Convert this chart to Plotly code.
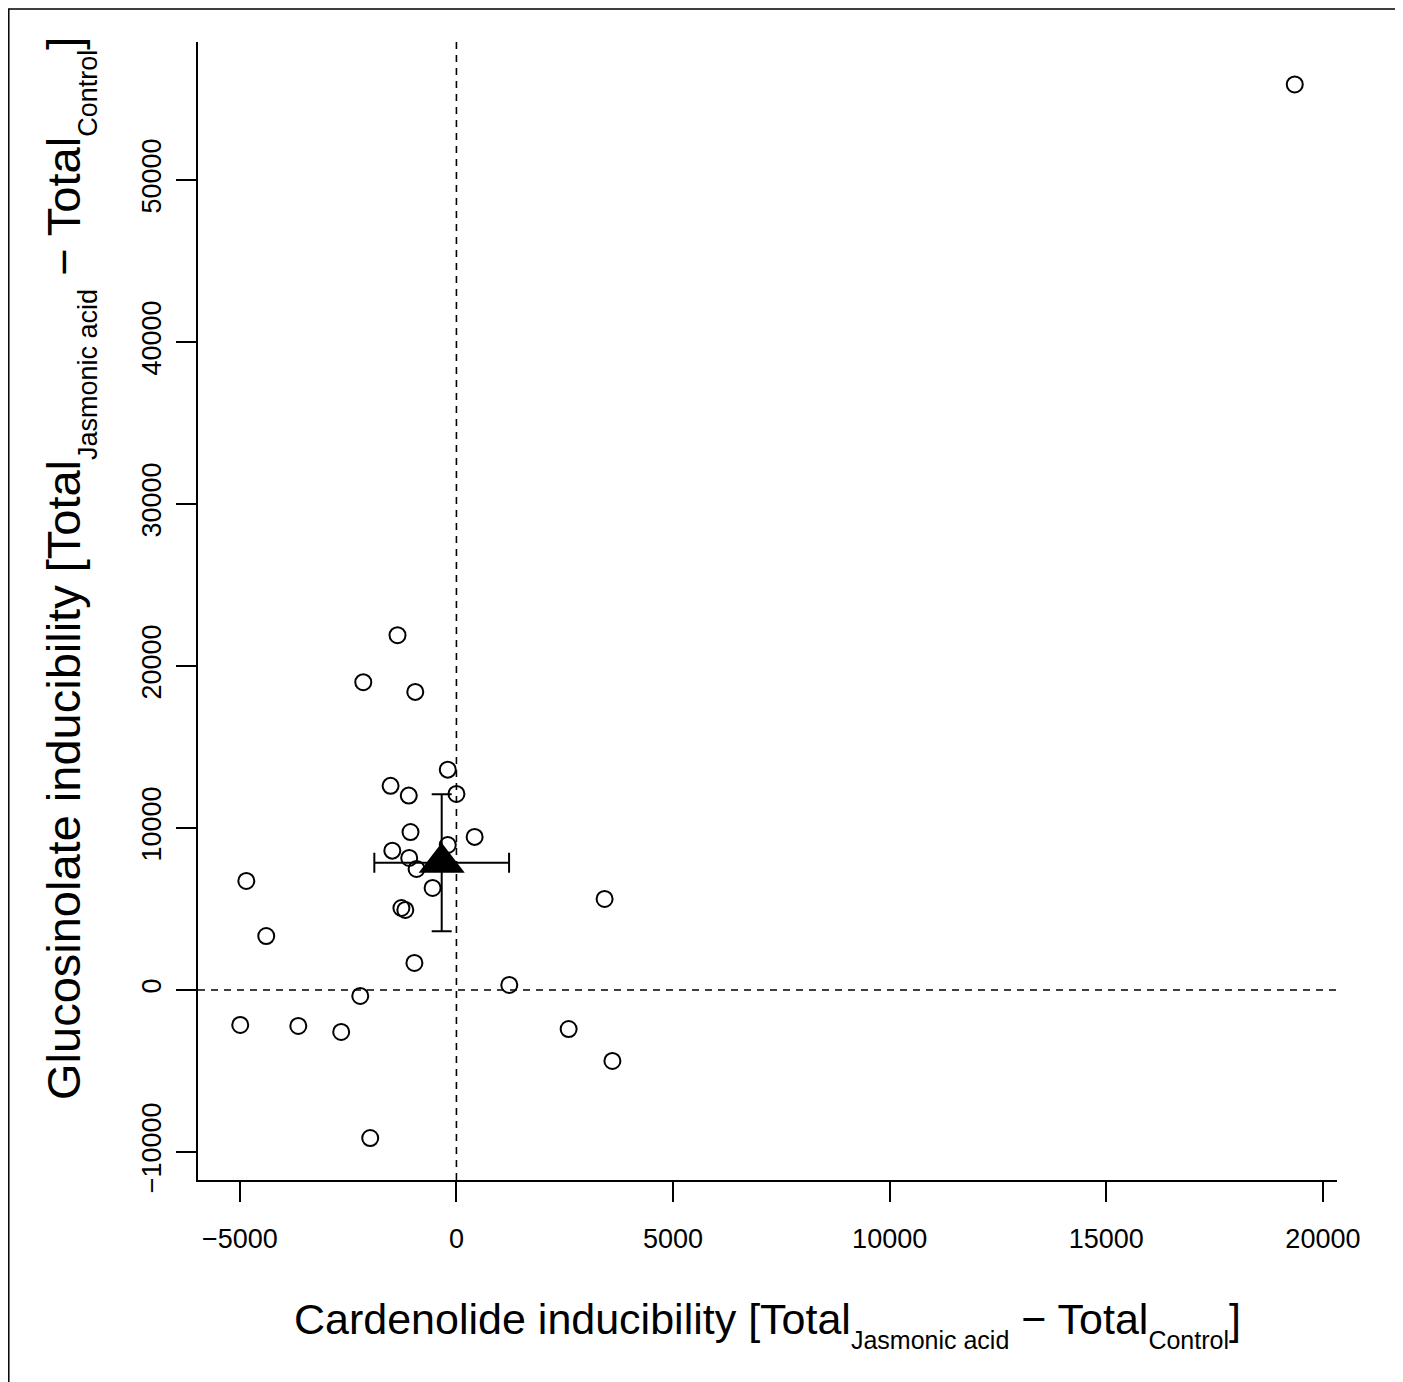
import plotly.graph_objects as go

# Individual points (cardenolide inducibility, glucosinolate inducibility)
card = [19350, -1360, -2150, -950, -200, -1520, -1100, 0, -1060, 420,
        -1480, -200, -1090, -920, -550, -1270, -1180, -970, -4850, -4390,
        -2220, -4990, -3650, -2660, -1990, 3420, 1220, 2590, 3600]
gluc = [55900, 21900, 19000, 18400, 13600, 12600, 12000, 12100, 9750, 9450,
        8600, 8950, 8150, 7470, 6300, 5060, 4940, 1670, 6730, 3330,
        -370, -2160, -2220, -2590, -9140, 5620, 310, -2410, -4380]

# Mean with error bars
mean_card = [-340]
mean_gluc = [7850]
err_card = [1555]
err_gluc = [4230]

x_ticks = [-5000, 0, 5000, 10000, 15000, 20000]
x_ticktext = ["\u22125000", "0", "5000", "10000", "15000", "20000"]
y_ticks = [-10000, 0, 10000, 20000, 30000, 40000, 50000]
y_ticktext = ["\u221210000", "0", "10000", "20000", "30000", "40000", "50000"]

FONT = "Liberation Sans, Arial, Helvetica, sans-serif"
OFF = 8  # page body margin
W, H = 1403 - OFF, 1382 - OFF
L, T = 198 - OFF, 42 - OFF
PW, PH = 1139, 1138
R, B = W - L - PW, H - T - PH

def px2paper_x(px):  # px in page coordinates
    return (px - OFF - L) / PW

def px2paper_y(py):
    return (T + PH - (py - OFF)) / PH

fig = go.Figure()

fig.add_trace(go.Scatter(
    x=card, y=gluc, mode="markers",
    marker=dict(symbol="circle-open", size=16, color="black", line=dict(width=2, color="black")),
    showlegend=False, hoverinfo="x+y"))

fig.add_trace(go.Scatter(
    x=mean_card, y=mean_gluc, mode="markers",
    marker=dict(symbol="triangle-up", size=40, color="black"),
    error_x=dict(type="data", array=err_card, visible=True, color="black", thickness=2, width=10),
    error_y=dict(type="data", array=err_gluc, visible=True, color="black", thickness=2, width=10),
    showlegend=False))

# dashed reference lines at zero
fig.add_shape(type="line", xref="x", yref="paper", x0=0, x1=0, y0=0, y1=1,
              line=dict(color="black", width=1.6, dash="7px,6px"), layer="below")
fig.add_shape(type="line", xref="paper", yref="y", x0=0, x1=1, y0=0, y1=0,
              line=dict(color="black", width=1.6, dash="7px,6px"), layer="below")

# outer frame of the figure
fig.add_shape(type="rect", xref="paper", yref="paper",
              x0=px2paper_x(8.8), x1=px2paper_x(1398), y0=px2paper_y(1400), y1=px2paper_y(9),
              line=dict(color="black", width=1.5), fillcolor="rgba(0,0,0,0)")

def title(main, subsize):
    sub = "<sub><sub><span style='font-size:%dpx'>{}</span></sub></sub>" % subsize
    return (main + " [Total" + sub.format("Jasmonic acid") + " \u2212 Total" + sub.format("Control") + "]")

fig.add_annotation(
    text=title("Cardenolide inducibility", 25),
    xref="paper", yref="paper", x=0.5, y=px2paper_y(1324), xanchor="center", yanchor="middle",
    showarrow=False, font=dict(family=FONT, size=43, color="black"))

fig.add_annotation(
    text=title("Glucosinolate inducibility", 27),
    xref="paper", yref="paper", x=px2paper_x(70), y=px2paper_y(569), xanchor="center", yanchor="middle",
    textangle=-90, showarrow=False, font=dict(family=FONT, size=47, color="black"))

fig.update_xaxes(
    range=[-5965, 20325], tickvals=x_ticks, ticktext=x_ticktext,
    showline=True, linecolor="black", linewidth=2, mirror=False,
    ticks="outside", ticklen=20, tickwidth=2, tickcolor="black",
    showgrid=False, zeroline=False, ticklabelstandoff=14,
    tickfont=dict(family=FONT, size=27, color="black"))
fig.update_yaxes(
    range=[-11730, 58520], tickvals=y_ticks, ticktext=y_ticktext,
    showline=True, linecolor="black", linewidth=2, mirror=False,
    ticks="outside", ticklen=20, tickwidth=2, tickcolor="black",
    showgrid=False, zeroline=False, tickangle=-90, ticklabelstandoff=4,
    tickfont=dict(family=FONT, size=27, color="black"))

fig.update_layout(
    width=W, height=H, margin=dict(l=L, r=R, t=T, b=B),
    plot_bgcolor="white", paper_bgcolor="white", showlegend=False)

fig.write_html("out.html")
